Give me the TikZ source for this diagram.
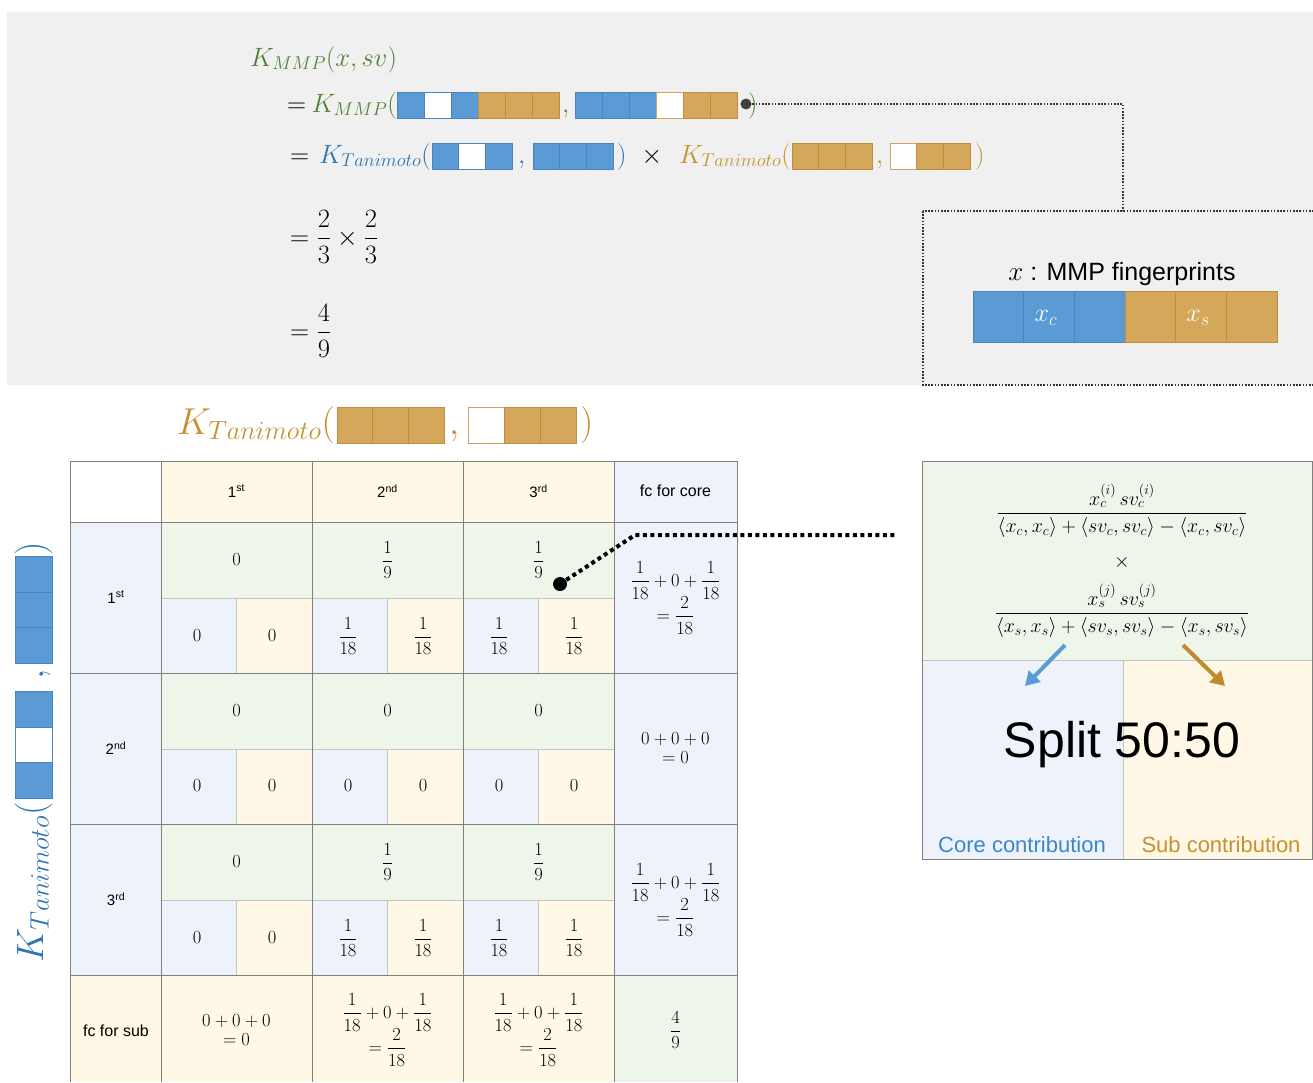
\documentclass[tikz,border=0pt]{standalone}
\usepackage{amsmath}
\usepackage{fontspec}
\DeclareFontShape{OML}{cmm}{m}{it}{<-6>cmmi5<6-7>cmmi6<7-8>cmmi7<8-9>cmmi8<9-10>cmmi9<10-12>cmmi10<12->cmmi12}{}
\DeclareFontShape{OMS}{cmsy}{m}{n}{<-6>cmsy5<6-7>cmsy6<7-8>cmsy7<8-9>cmsy8<9-10>cmsy9<10->cmsy10}{}
\DeclareFontShape{OT1}{cmr}{m}{n}{<-6>cmr5<6-7>cmr6<7-8>cmr7<8-9>cmr8<9-10>cmr9<10-12>cmr10<12-17>cmr12<17->cmr17}{}
\DeclareFontShape{OMX}{cmex}{m}{n}{<->cmex10}{}
\newfontfamily\arial{Liberation Sans}
\usetikzlibrary{arrows.meta}
\newcommand{\fsz}[1]{\fontsize{#1}{#1}\selectfont}
\newcommand{\fr}[2]{\dfrac{#1}{#2}}
\definecolor{fpB}{HTML}{5B9BD5}
\definecolor{fpBD}{HTML}{4A84BE}
\definecolor{fpG}{HTML}{D5A75B}
\definecolor{fpGD}{HTML}{BF8F3F}
\definecolor{fpW}{HTML}{FFFFFF}
\definecolor{fpWD}{HTML}{4A84BE}
\definecolor{fpw}{HTML}{FFFFFF}
\definecolor{fpwD}{HTML}{D0A460}
\definecolor{kgreen}{HTML}{548235}
\definecolor{kblue}{HTML}{2E75B6}
\definecolor{kgold}{HTML}{C5922E}
\definecolor{bggray}{HTML}{F0F0F0}
\definecolor{cgreen}{HTML}{EEF6EA}
\definecolor{cblue}{HTML}{EEF3FB}
\definecolor{cyellow}{HTML}{FFF8E6}
\definecolor{gridD}{HTML}{808080}
\definecolor{gridL}{HTML}{C4C4C4}
\definecolor{coreblue}{HTML}{3D86CC}
\definecolor{subgold}{HTML}{C8902F}
\definecolor{arrB}{HTML}{5B9BD5}
\definecolor{arrG}{HTML}{C08A2E}
% horizontal fingerprint bar: x, y(top), cell width, height, cells
\newcommand{\fpbar}[5]{%
  \foreach \cc [count=\ii from 0] in {#5} {
    \path[fill=fp\cc, draw=fp\cc D, line width=0.8] (#1+\ii*#3, #2) rectangle ++(#3, #4);
  }}
% vertical fingerprint bar, first cell at the bottom: x(left), y(bottom), width, cell height, cells
\newcommand{\fpvbar}[5]{%
  \foreach \cc [count=\ii from 0] in {#5} {
    \path[fill=fp\cc, draw=fp\cc D, line width=0.8] (#1, #2-\ii*#4) rectangle ++(#3, -#4);
  }}
\begin{document}
\begin{tikzpicture}[x=1pt,y=-1pt,
  eq/.style={inner sep=0, font=\fsz{26.5}},
  eqL/.style={inner sep=0, font=\fsz{37.5}},
  eqV/.style={inner sep=0, font=\fsz{38}, rotate=90, text=kblue},
  tsans/.style={inner sep=0, font=\arial\fsz{15}},
  tmath/.style={inner sep=0, font=\fsz{18.5}},
  rmath/.style={inner sep=0, font=\fsz{20}},
  thindots/.style={draw=black!80, line width=1.8, dash pattern=on 1.6pt off 1.6pt},
  thickdots/.style={draw=black, line width=4, dash pattern=on 4pt off 3.5pt},
  gline/.style={draw=gridD, line width=1},
  lline/.style={draw=gridL, line width=0.8},
]
\useasboundingbox (0,0) rectangle (1313,1082);
\fill[white] (0,0) rectangle (1313,1082);
\fill[bggray] (7,12) rectangle (1313,385);

% ---------- equations ----------
\node[eq, text=kgreen, anchor=base west] (l1) at (250,66) {$K_{MMP}(x,sv)$};

\node[eq, anchor=base west] (l2eq) at (287,112) {$=$};
\node[eq, text=kgreen, anchor=base east] (l2k) at (397,112) {$K_{MMP}($};
\fpbar{397}{92}{27}{26}{B,W,B,G,G,G}
\node[eq, text=kgreen, anchor=base west] (l2c) at (562,112) {$,$};
\fpbar{575}{92}{27}{26}{B,B,B,w,G,G}
\node[eq, text=kgreen, anchor=base west] (l2p) at (748,112) {$)$};
\node[circle, fill=black!75, inner sep=0, minimum size=11] (dotB) at (746,104) {};

\node[eq, anchor=base west] (l3eq) at (290,163) {$=$};
\node[eq, text=kblue, anchor=base east] (l3k) at (431,163) {$K_{Tanimoto}($};
\fpbar{432}{143}{26.7}{26}{B,W,B}
\node[eq, text=kblue, anchor=base west] (l3c) at (518,163) {$,$};
\fpbar{533}{143}{26.7}{26}{B,B,B}
\node[eq, text=kblue, anchor=base west] (l3p) at (617,163) {$)$};
\node[eq, anchor=base] (l3x) at (652,163) {$\times$};
\node[eq, text=kgold, anchor=base east] (l3k2) at (791,163) {$K_{Tanimoto}($};
\fpbar{792}{143}{26.7}{26}{G,G,G}
\node[eq, text=kgold, anchor=base west] (l3c2) at (876,163) {$,$};
\fpbar{890}{143}{26.7}{26}{w,G,G}
\node[eq, text=kgold, anchor=base west] (l3p2) at (975,163) {$)$};

\node[eq, anchor=west] (l4) at (290,237) {$=\dfrac{2}{3}\times\dfrac{2}{3}$};
\node[eq, anchor=west] (l5) at (290,331) {$=\dfrac{4}{9}$};

% ---------- MMP fingerprint box ----------
\draw[thindots] (923,211) rectangle (1330,385);
\coordinate (cTop) at (1123,104);
\coordinate (boxTop) at (1123,211);
\draw[thindots] (dotB.center) -- (cTop) -- (boxTop);
\node[inner sep=0, font=\arial\fsz{25}, anchor=base] (mmptitle) at (1122,280) {{\fsz{27}$x$} : MMP fingerprints};
\fpbar{973}{291}{50.67}{51}{B,B,B,G,G,G}
\node[inner sep=0, font=\fsz{26}, text=white] (xc) at (1046,318) {$x_c$};
\node[inner sep=0, font=\fsz{26}, text=white] (xs) at (1198,318) {$x_s$};

% ---------- table title ----------
\node[eqL, text=kgold, anchor=base east] (tk) at (335,434) {$K_{Tanimoto}($};
\fpbar{337}{407}{35.7}{36}{G,G,G}
\node[eqL, text=kgold, anchor=base west] (tc) at (449,434) {$,$};
\fpbar{468}{407}{36}{36}{w,G,G}
\node[eqL, text=kgold, anchor=base west] (tp) at (580,434) {$)$};

% ---------- left vertical title ----------
\node[eqV, anchor=base east] (vk) at (43,802) {$K_{Tanimoto}($};
\fpvbar{15}{798}{37}{35.4}{B,W,B}
\node[eqV, anchor=base west] (vc) at (43,680) {$,$};
\fpvbar{15}{663}{37}{35.4}{B,B,B}
\node[eqV, anchor=base west] (vp) at (43,556) {$)$};

% ---------- table fills ----------
\fill[white] (70,461) rectangle (161,522);
\fill[cyellow] (161,461) rectangle (614,522);
\fill[cblue] (614,461) rectangle (737,522);
\foreach \y in {522,673,824} {
  \fill[cblue] (70,\y) rectangle (161,\y+151);
  \fill[cgreen] (161,\y) rectangle (614,\y+76);
  \foreach \x in {161,312,463} {
    \fill[cblue] (\x,\y+76) rectangle (\x+75.5,\y+151);
    \fill[cyellow] (\x+75.5,\y+76) rectangle (\x+151,\y+151);
  }
  \fill[cblue] (614,\y) rectangle (737,\y+151);
  \draw[lline] (161,\y+76) -- (614,\y+76);
  \foreach \x in {161,312,463} { \draw[lline] (\x+75.5,\y+76) -- (\x+75.5,\y+151); }
}
\fill[cyellow] (70,975) rectangle (614,1082);
\fill[cgreen] (614,975) rectangle (737,1082);
\foreach \x in {70,161,312,463,614,737} { \draw[gline] (\x,461) -- (\x,1082); }
\foreach \y in {461,522,673,824,975} { \draw[gline] (70,\y) -- (737,\y); }

% ---------- table texts ----------
\node[tsans] (h1) at (236.5,491) {1\textsuperscript{st}};
\node[tsans] (h2) at (387.5,491) {2\textsuperscript{nd}};
\node[tsans] (h3) at (538.5,491) {3\textsuperscript{rd}};
\node[tsans, font=\arial\fsz{16}] (hfc) at (675.5,491) {fc for core};
\node[tsans] (rh1) at (116,597) {1\textsuperscript{st}};
\node[tsans] (rh2) at (116,748) {2\textsuperscript{nd}};
\node[tsans] (rh3) at (116,899) {3\textsuperscript{rd}};
\node[tsans, font=\arial\fsz{16}] (rh4) at (116,1031) {fc for sub};

\foreach \y/\n in {522/a,824/c} {
  \node[tmath] (t\n1) at (236.5,\y+38) {$0$};
  \node[tmath] (t\n2) at (387.5,\y+38) {$\fr{1}{9}$};
  \node[tmath] (t\n3) at (538.5,\y+38) {$\fr{1}{9}$};
  \node[tmath] (b\n1) at (197,\y+114) {$0$};
  \node[tmath] (b\n2) at (272,\y+114) {$0$};
  \node[tmath] (b\n3) at (348,\y+114) {$\fr{1}{18}$};
  \node[tmath] (b\n4) at (423,\y+114) {$\fr{1}{18}$};
  \node[tmath] (b\n5) at (499,\y+114) {$\fr{1}{18}$};
  \node[tmath] (b\n6) at (574,\y+114) {$\fr{1}{18}$};
  \node[tmath, align=center] (fc\n) at (675.5,\y+76) {$\fr{1}{18}+0+\fr{1}{18}$\\[-3pt]$=\fr{2}{18}$};
}
\foreach \x/\k in {236.5/1,387.5/2,538.5/3} { \node[tmath] (tb\k) at (\x,711) {$0$}; }
\foreach \x/\k in {197/1,272/2,348/3,423/4,499/5,574/6} { \node[tmath] (bb\k) at (\x,786) {$0$}; }
\node[tmath, align=center] (fcb) at (675.5,748) {$0+0+0$\\$=0$};
\node[tmath, align=center] (fs1) at (236.5,1030) {$0+0+0$\\$=0$};
\node[tmath, align=center] (fs2) at (387.5,1030) {$\fr{1}{18}+0+\fr{1}{18}$\\[-3pt]$=\fr{2}{18}$};
\node[tmath, align=center] (fs3) at (538.5,1030) {$\fr{1}{18}+0+\fr{1}{18}$\\[-3pt]$=\fr{2}{18}$};
\node[tmath] (fs4) at (675.5,1030) {$\fr{4}{9}$};

% ---------- right box ----------
\fill[cgreen] (922,461) rectangle (1313,660);
\fill[cblue] (922,660) rectangle (1123,859);
\fill[cyellow] (1123,660) rectangle (1313,859);
\draw[lline] (922,660) -- (1313,660);
\draw[lline] (1123,660) -- (1123,859);
\draw[gline] (1313,461) -- (922,461) -- (922,859) -- (1313,859);
\draw[gline] (1312.5,461) -- (1312.5,859);

\node[rmath] (f1) at (1122,511) {$\dfrac{x_c^{(i)}\,sv_c^{(i)}}{\langle x_c,x_c\rangle+\langle sv_c,sv_c\rangle-\langle x_c,sv_c\rangle}$};
\node[rmath] (fx) at (1122,562) {$\times$};
\node[rmath] (f2) at (1122,611) {$\dfrac{x_s^{(j)}\,sv_s^{(j)}}{\langle x_s,x_s\rangle+\langle sv_s,sv_s\rangle-\langle x_s,sv_s\rangle}$};

\coordinate (a1s) at (1065,645);
\coordinate (a1e) at (1025,686);
\coordinate (a2s) at (1183,645);
\coordinate (a2e) at (1225,686);
\draw[arrB, line width=4, -{Triangle[length=14, width=16]}] (a1s) -- (a1e);
\draw[arrG, line width=4, -{Triangle[length=14, width=16]}] (a2s) -- (a2e);

\node[inner sep=0, font=\arial\fsz{50}] (split) at (1122,745) {Split 50:50};
\node[inner sep=0, font=\arial\fsz{22}, text=coreblue] (core) at (1022,845) {Core contribution};
\node[inner sep=0, font=\arial\fsz{22}, text=subgold] (sub) at (1221,845) {Sub contribution};

% ---------- thick dotted connector ----------
\node[circle, fill=black, inner sep=0, minimum size=14] (dotA) at (560,584) {};
\coordinate (bendA) at (635,535);
\coordinate (endA) at (897,535);
\draw[thickdots] (dotA.center) -- (bendA) -- (endA);
\end{tikzpicture}
\end{document}
